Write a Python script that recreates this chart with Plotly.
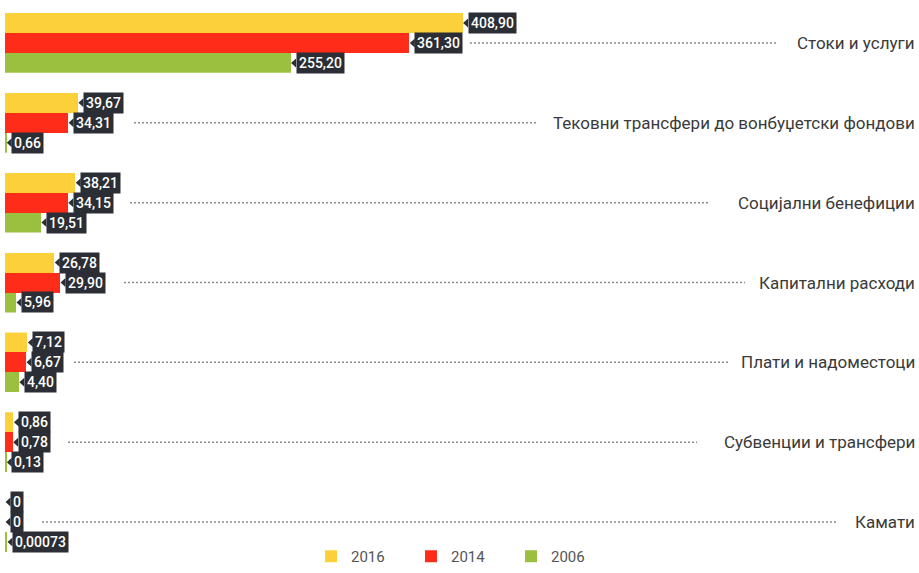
import plotly.graph_objects as go
from plotly.subplots import make_subplots

# ---------------- data ----------------
categories = [
    "Стоки и услуги",
    "Тековни трансфери до вонбуџетски фондови",
    "Социјални бенефиции",
    "Капитални расходи",
    "Плати и надоместоци",
    "Субвенции и трансфери",
    "Камати",
]
series_names = ["2016", "2014", "2006"]
v2016 = [408.90, 39.67, 38.21, 26.78, 7.12, 0.86, 0]
v2014 = [361.30, 34.31, 34.15, 29.90, 6.67, 0.78, 0]
v2006 = [255.20, 0.66, 19.51, 5.96, 4.40, 0.13, 0.00073]

# ---------------- style ----------------
colors = ["#FBD03B", "#FE2C19", "#9BC03F"]
box_color = "#2B2E35"
FONT = "Roboto, sans-serif"
# each group uses its own x scale (axis maximum), as in the original infographic
axis_max = [815, 496, 496, 496, 290, 93, 0.333]
# leader line start / end in pixels
lead_start = [470, 134, 130, 124, 74, 68, 42]
lead_end = [778, 538, 708, 745, 728, 697, 838]

W, H = 919, 573
ML, MR, MT, MB = 5, 2, 13, 21
PW = W - ML - MR
PH = H - MT - MB
n = len(categories)


def fmt(v):
    if v == 0:
        return "0"
    s = f"{v:.2f}" if v >= 0.01 else f"{v:.5f}"
    return s.replace(".", ",")


values = [v2016, v2014, v2006]

fig = make_subplots(rows=n, cols=1, vertical_spacing=20 / PH)

annotations = []
shapes = []
for g in range(n):
    row = g + 1
    xr = "x" if row == 1 else f"x{row}"
    yr = "y" if row == 1 else f"y{row}"
    for s, name in enumerate(series_names):
        val = values[s][g]
        fig.add_trace(
            go.Bar(
                x=[val], y=[name], orientation="h",
                marker=dict(color=colors[s], line=dict(width=0)),
                width=0.98, name=name, legendgroup=name,
                showlegend=(g == 0), hoverinfo="skip",
            ),
            row=row, col=1,
        )
        # value label (category index s on the category axis)
        annotations.append(dict(
            x=val, y=s, xref=xr, yref=yr, xanchor="left", yanchor="middle",
            xshift=5, showarrow=False, text=fmt(val),
            font=dict(family=FONT, size=14, color="white", weight=500),
            bgcolor=box_color, borderpad=2, height=16,
        ))
        shapes.append(dict(
            type="path", xref=xr, yref=yr, xsizemode="pixel", ysizemode="pixel",
            xanchor=val, yanchor=s, path="M0.5,0 L5.5,4.5 L5.5,-4.5 Z",
            fillcolor=box_color, line=dict(width=0), layer="above",
        ))
    # leader line at the middle row
    shapes.append(dict(
        type="line", xref="paper", yref=yr,
        x0=(lead_start[g] - ML) / PW, x1=(lead_end[g] - ML) / PW,
        y0=1, y1=1,
        line=dict(color="#8A8A8A", width=1.5, dash="2px,2px"),
    ))
    annotations.append(dict(
        x=1, y=1, xref="paper", yref=yr, xanchor="right", yanchor="middle",
        showarrow=False, text=categories[g],
        font=dict(family=FONT, size=17, color="#3A3A3A"),
    ))
    fig.update_xaxes(range=[0, axis_max[g]], visible=False, row=row, col=1)
    fig.update_yaxes(type="category", categoryorder="array", categoryarray=series_names,
                     range=[2.5, -0.5], visible=False, row=row, col=1)

fig.update_layout(
    width=W, height=H,
    margin=dict(l=ML, r=MR, t=MT, b=MB, autoexpand=False),
    paper_bgcolor="white", plot_bgcolor="white",
    bargap=0,
    annotations=annotations, shapes=shapes,
    showlegend=True,
    legend=dict(
        orientation="h", x=(311 - ML) / PW, xanchor="left",
        yref="container", y=-0.009, yanchor="bottom",
        font=dict(family=FONT, size=15, color="#555555"),
        entrywidth=55, entrywidthmode="pixels", itemclick=False,
    ),
)

fig.write_html("out.html")
